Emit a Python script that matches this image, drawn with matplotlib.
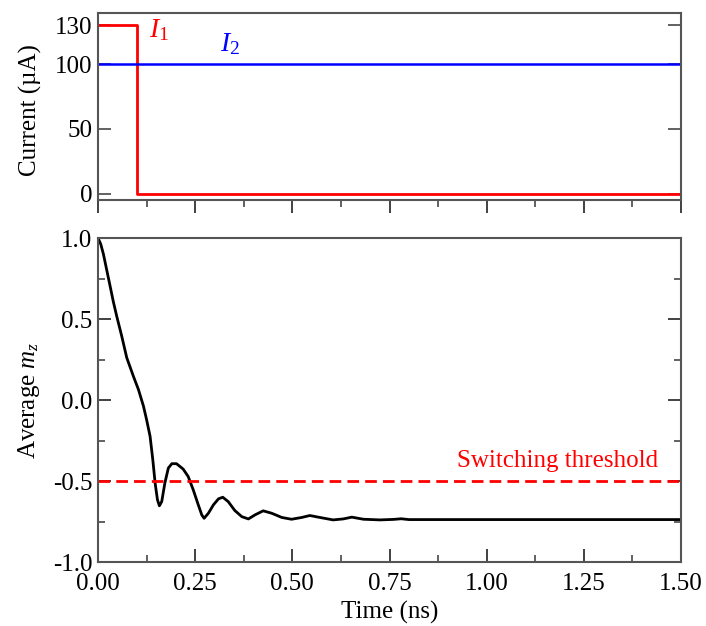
import matplotlib
matplotlib.use('Agg')
import matplotlib.pyplot as plt
from matplotlib.ticker import MultipleLocator, FormatStrFormatter

plt.rcParams['font.family'] = ['Liberation Serif', 'DejaVu Serif']
plt.rcParams['mathtext.fontset'] = 'custom'
plt.rcParams['mathtext.it'] = 'Liberation Serif:italic'
plt.rcParams['mathtext.rm'] = 'Liberation Serif'

# current pulses (uA)
t_i1 = [0.0, 0.1, 0.1, 1.5]
i1 = [130, 130, 0, 0]
t_i2 = [0.0, 1.5]
i2 = [100, 100]

# average m_z
t_mz = [0.0, 0.007, 0.014, 0.022, 0.031, 0.039, 0.048, 0.061, 0.074, 0.091, 0.104,
        0.117, 0.125, 0.134, 0.141, 0.147, 0.153, 0.158, 0.164, 0.172, 0.181, 0.190,
        0.202, 0.219, 0.232, 0.245, 0.258, 0.267, 0.273, 0.284, 0.297, 0.310, 0.321,
        0.335, 0.352, 0.370, 0.387, 0.404, 0.425, 0.447, 0.473, 0.498, 0.524, 0.545,
        0.571, 0.605, 0.631, 0.653, 0.683, 0.725, 0.76, 0.78, 0.80, 0.90, 1.1, 1.3, 1.5]
mz = [1.0, 0.963, 0.90, 0.808, 0.705, 0.612, 0.519, 0.395, 0.261, 0.147, 0.065,
      -0.038, -0.121, -0.224, -0.368, -0.513, -0.616, -0.653, -0.627, -0.513, -0.42, -0.393,
      -0.393, -0.426, -0.472, -0.554, -0.647, -0.709, -0.73, -0.699, -0.647, -0.61, -0.60,
      -0.627, -0.682, -0.72, -0.734, -0.709, -0.684, -0.699, -0.725, -0.736, -0.725, -0.713,
      -0.725, -0.74, -0.734, -0.723, -0.736, -0.74, -0.737, -0.733, -0.738, -0.738, -0.738,
      -0.738, -0.738]

threshold = -0.5

fig = plt.figure(figsize=(7.06, 6.26), dpi=100)
ax1 = fig.add_axes([0.1388, 0.6805, 0.8258, 0.2987])
ax2 = fig.add_axes([0.1388, 0.1022, 0.8258, 0.5176])

spine_col = '#555555'
fs = 18

# top panel
ax1.plot(t_i1, i1, color='#ff0000', lw=2)
ax1.plot(t_i2, i2, color='#0000ff', lw=1.8)
ax1.set_xlim(0, 1.5)
ax1.set_ylim(-5, 139.5)
ax1.set_yticks([0, 50, 100, 130])
ax1.xaxis.set_major_locator(MultipleLocator(0.25))
ax1.xaxis.set_minor_locator(MultipleLocator(0.125))
ax1.tick_params(axis='y', direction='in', left=True, right=True, length=9.4, width=1.3,
                labelsize=fs, pad=4, color=spine_col)
ax1.tick_params(axis='x', which='major', direction='out', length=9.4, width=1.3,
                labelbottom=False, color='#333333')
ax1.tick_params(axis='x', which='minor', direction='out', length=5, width=1.3, color=spine_col)
ax1.set_ylabel('Current (µA)', fontsize=fs)
ax1.yaxis.set_label_coords(-0.096, 0.48)
ax1.text(0.13, 121, r'$I_{\mathit{1}}$', color='#ff0000', fontsize=20)
ax1.text(0.315, 110, r'$I_{\mathit{2}}$', color='#0000ff', fontsize=20)

# bottom panel
ax2.plot(t_mz, mz, color='black', lw=2)
ax2.axhline(threshold, color='#ff0000', lw=2, dashes=(4.2, 2.2))
ax2.text(1.441, -0.412, 'Switching threshold', color='#ff0000', fontsize=fs, ha='right',
         va='baseline')
ax2.set_xlim(0, 1.5)
ax2.set_ylim(-1, 1)
ax2.xaxis.set_major_locator(MultipleLocator(0.25))
ax2.xaxis.set_minor_locator(MultipleLocator(0.125))
ax2.yaxis.set_major_locator(MultipleLocator(0.5))
ax2.yaxis.set_minor_locator(MultipleLocator(0.25))
ax2.xaxis.set_major_formatter(FormatStrFormatter('%.2f'))
ax2.yaxis.set_major_formatter(FormatStrFormatter('%.1f'))
ax2.tick_params(which='major', direction='in', left=True, right=True, bottom=True, top=False,
                length=9.4, width=1.3, labelsize=fs, color='#333333')
ax2.tick_params(axis='x', which='major', pad=8)
ax2.tick_params(axis='y', which='major', pad=4)
ax2.tick_params(which='minor', direction='in', left=True, right=True, bottom=True, top=False,
                length=5, width=1.3, color=spine_col)
ax2.set_xlabel('Time (ns)', fontsize=fs, labelpad=4)
ax2.set_ylabel('Average $m_z$', fontsize=fs)
ax2.yaxis.set_label_coords(-0.096, 0.5)

for ax in (ax1, ax2):
    for s in ax.spines.values():
        s.set_color(spine_col)
        s.set_linewidth(1.5)

fig.savefig('out.png', dpi=100)
